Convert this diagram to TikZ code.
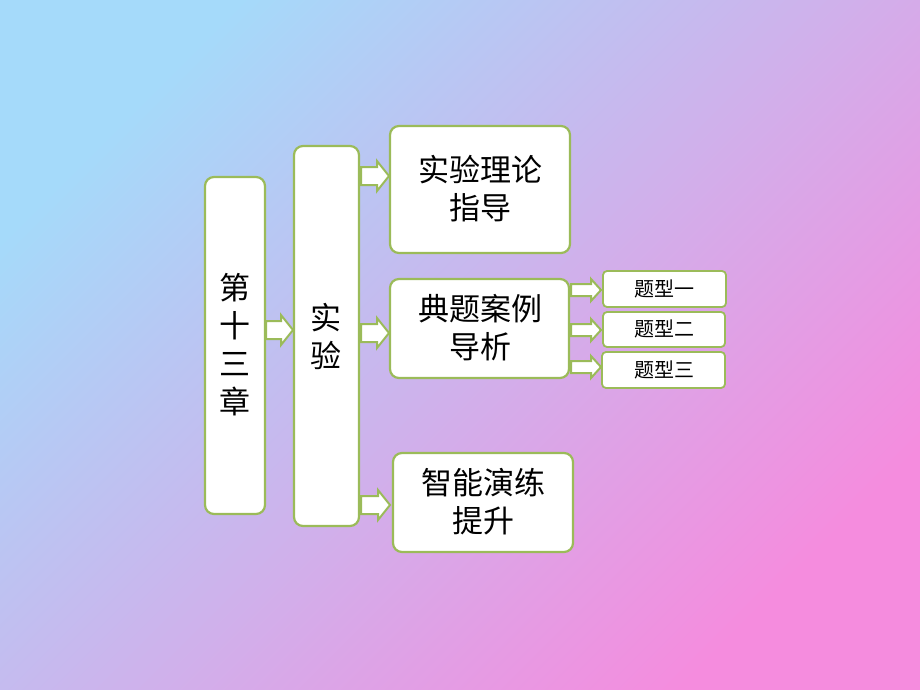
\documentclass[tikz,border=0pt]{standalone}
\usepackage{fontspec}
\setmainfont{Noto Sans CJK SC}
\definecolor{gb}{HTML}{9BBB59}
\definecolor{cul}{RGB}{165,218,250}
\definecolor{cmid}{RGB}{222,190,240}
\definecolor{clr}{RGB}{245,140,222}
\begin{document}
\begin{tikzpicture}[x=1pt,y=-1pt,
  box/.style={draw=gb,line width=2.2pt,fill=white,rounded corners=9pt},
  big/.style={font=\fontsize{31}{38}\selectfont},
  small/.style={font=\fontsize{20}{24}\selectfont},
  arr/.style={draw=gb,line width=2pt,fill=white,line join=miter}]
\shade[top color=cul,middle color=cmid,bottom color=clr,shading angle=45]
 (0,0) rectangle (920,690);
\useasboundingbox (0,0) rectangle (920,690);
\newcommand\barr[6]{% x1,x2,y,shafthalf,headhalf,headlen
 \draw[arr] (#1,#3-#4) -- (#2-#6,#3-#4) -- (#2-#6,#3-#5) -- (#2,#3) -- (#2-#6,#3+#5) -- (#2-#6,#3+#4) -- (#1,#3+#4) -- cycle;}
\barr{266}{293}{330}{9}{15}{12}
\barr{361}{389}{176}{9}{15}{12}
\barr{361}{389}{333}{9}{15}{12}
\barr{361}{390}{505}{9}{15}{12}
\barr{571}{601}{290}{6}{11}{10}
\barr{571}{601}{330}{6}{11}{10}
\barr{571}{601}{367}{6}{11}{10}
\draw[box] (205,177) rectangle (265,514);
\node[big,align=center] (a) at (235,345) {第\\十\\三\\章};
\draw[box] (294,146) rectangle (359,526);
\node[big,align=center] (b) at (326,336) {实\\验};
\draw[box] (390,126) rectangle (570,253);
\node[big,align=center] (c1) at (480,189) {实验理论\\指导};
\draw[box] (390,279) rectangle (569,378);
\node[big,align=center] (c2) at (480,328) {典题案例\\导析};
\draw[box] (393,453) rectangle (573,552);
\node[big,align=center] (c3) at (483,502) {智能演练\\提升};
\begin{scope}[box/.append style={rounded corners=4pt,line width=1.8pt}]
\draw[box] (603,271) rectangle (726,307);
\node[small] (d1) at (664,289) {题型一};
\draw[box] (603,312) rectangle (725,347);
\node[small] (d2) at (664,329) {题型二};
\draw[box] (602,352) rectangle (725,388);
\node[small] (d3) at (664,370) {题型三};
\end{scope}
\end{tikzpicture}
\end{document}
